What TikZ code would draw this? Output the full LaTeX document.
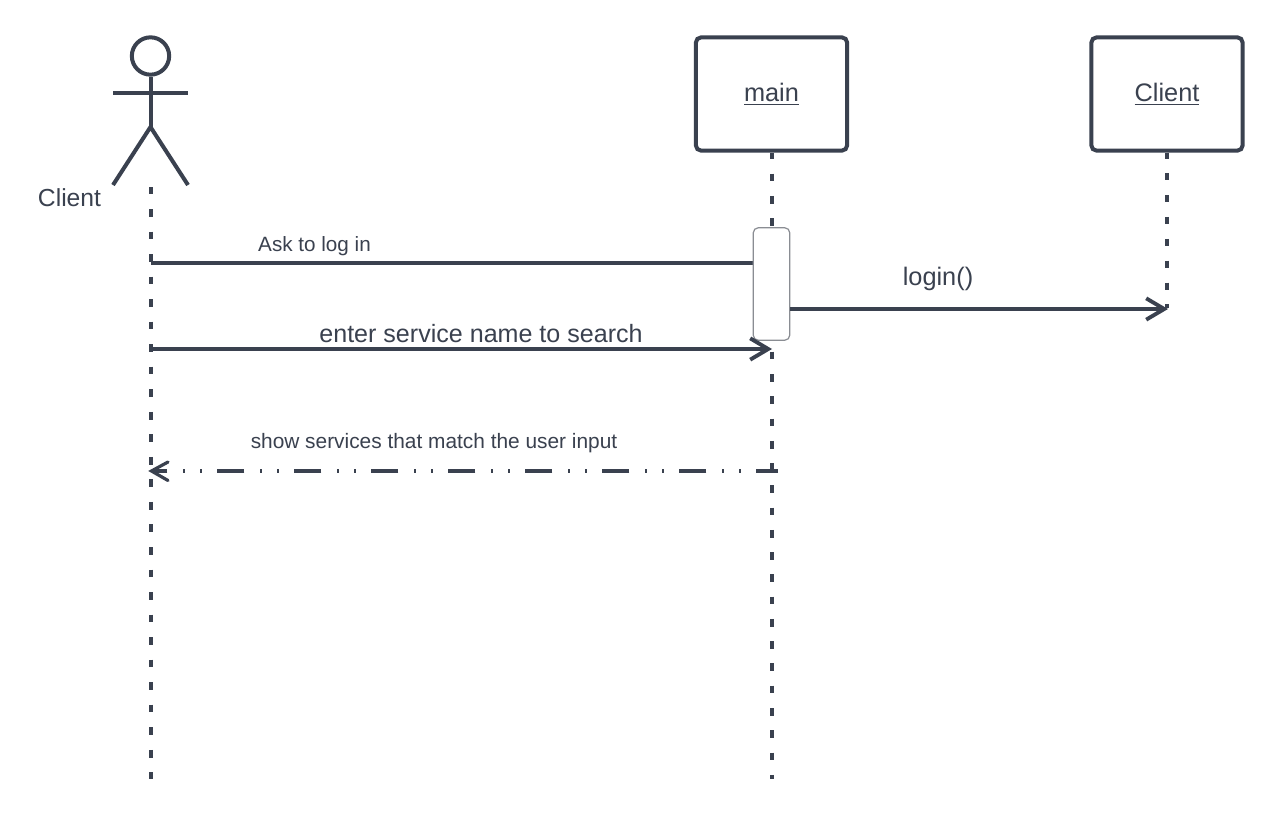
\documentclass[tikz,border=0pt]{standalone}
\usepackage{fontspec}
\setmainfont{Liberation Sans}
\usetikzlibrary{arrows.meta}
\definecolor{ink}{HTML}{3A414F}
\definecolor{actedge}{HTML}{8A8D93}
\tikzset{
  x=0.75pt,y=-0.75pt,
  lbl/.style={text=ink,inner sep=0pt},
  fs/.style={font=\fontsize{#1pt}{#1pt}\selectfont},
  objbox/.style={draw=ink,line width=3pt,rounded corners=4pt,fill=white,minimum width=113.5pt,minimum height=85pt,inner sep=0pt,text=ink,font=\fontsize{19pt}{22pt}\selectfont},
  lifeline/.style={draw=ink,line width=3pt,dash pattern=on 5.8pt off 11.1pt},
  msg/.style={draw=ink,line width=2.9pt,-{Straight Barb[length=13.5pt,width=16pt,line width=2.9pt]}},
  plainmsg/.style={draw=ink,line width=2.9pt},
  reply/.style={draw=ink,line width=2.5pt,dash pattern=on 20.5pt off 11.45pt on 1.3pt off 11.45pt on 1.3pt off 11.75pt,dash phase=4pt},
  replyhead/.style={draw=ink,line width=2.4pt,line cap=round},
  activation/.style={draw=actedge,line width=0.9pt,rounded corners=4pt,fill=white,minimum width=27.5pt,minimum height=84.5pt,inner sep=0pt},
  figure/.style={draw=ink,line width=3pt},
}
\begin{document}
\begin{tikzpicture}
\useasboundingbox (0,0) rectangle (1280,817);
\fill[white] (0,0) rectangle (1280,817);
% objects
\node[objbox] (main) at (771.5,94) {\underline{main}};
\node[objbox] (clientobj) at (1167,94) {\underline{Client}};
% actor
\node[figure,circle,minimum size=28pt,inner sep=0pt] (head) at (150.5,56) {};
\coordinate (hip) at (150.5,127);
\coordinate (armL) at (113,92.5);
\coordinate (armR) at (188,92.5);
\coordinate (legL) at (113,185);
\coordinate (legR) at (188,185);
\draw[figure] (head.south) -- (hip);
\draw[figure] (armL) -- (armR);
\draw[figure] (legL) -- (hip) -- (legR);
\node[lbl,fs=18.5] (actorlabel) at (69.5,198) {Client};
% lifeline ends
\coordinate (actorTop) at (150.5,187);
\coordinate (actorEnd) at (150.5,779);
\coordinate (mainEnd) at (771.5,779);
\coordinate (clientEnd) at (1167,308);
\draw[lifeline,dash phase=0.4pt] (actorTop) -- (actorEnd);
\draw[lifeline,dash pattern=on 5.8pt off 10.9pt,dash phase=1pt] (main.south) -- (mainEnd);
\draw[lifeline,dash pattern=on 5.4pt off 11pt,dash phase=1pt] (clientobj.south) -- (clientEnd);
% message anchors
\coordinate (m1a) at (150.5,263);
\coordinate (m2a) at (150.5,349);
\coordinate (m2b) at (772,349);
\coordinate (m4a) at (778,471);
\coordinate (m4b) at (151.5,471);
\coordinate (m3b) at (1168,309);
% activation
\draw[plainmsg] (m1a) -- (753,263);
\node[activation] (act) at (771.5,284) {};
\draw[msg] (act.east |- m3b) -- (m3b);
\draw[msg] (m2a) -- (m2b);
\draw[reply] (m4a) -- (m4b);
\draw[replyhead] (168,462) -- (m4b) -- (168,480.5);
% labels
\node[lbl,fs=15.5] (l1) at (314.5,246) {Ask to log in};
\node[lbl,fs=19] (l2) at (938,279) {login()};
\node[lbl,fs=18.8] (l3) at (481,333.5) {enter service name to search};
\node[lbl,fs=15.65] (l4) at (434,443) {show services that match the user input};
\end{tikzpicture}
\end{document}
